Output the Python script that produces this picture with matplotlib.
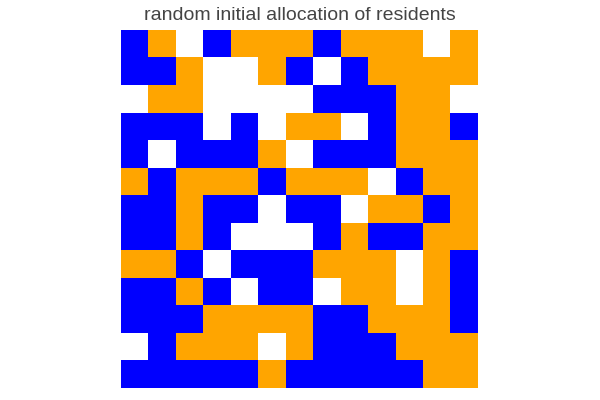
import numpy as np
import matplotlib
matplotlib.use('Agg')
from matplotlib import pyplot as plt
from matplotlib.colors import ListedColormap

# 0 = empty, 1 = blue resident, 2 = orange resident
grid_rows = [
    [1, 2, 0, 1, 2, 2, 2, 1, 2, 2, 2, 0, 2],
    [1, 1, 2, 0, 0, 2, 1, 0, 1, 2, 2, 2, 2],
    [0, 2, 2, 0, 0, 0, 0, 1, 1, 1, 2, 2, 0],
    [1, 1, 1, 0, 1, 0, 2, 2, 0, 1, 2, 2, 1],
    [1, 0, 1, 1, 1, 2, 0, 1, 1, 1, 2, 2, 2],
    [2, 1, 2, 2, 2, 1, 2, 2, 2, 0, 1, 2, 2],
    [1, 1, 2, 1, 1, 0, 1, 1, 0, 2, 2, 1, 2],
    [1, 1, 2, 1, 0, 0, 0, 1, 2, 1, 1, 2, 2],
    [2, 2, 1, 0, 1, 1, 1, 2, 2, 2, 0, 2, 1],
    [1, 1, 2, 1, 0, 1, 1, 0, 2, 2, 0, 2, 1],
    [1, 1, 1, 2, 2, 2, 2, 1, 1, 2, 2, 2, 1],
    [0, 1, 2, 2, 2, 0, 2, 1, 1, 1, 2, 2, 2],
    [1, 1, 1, 1, 1, 2, 1, 1, 1, 1, 1, 2, 2],
]
colors = ['white', 'blue', 'orange']
title = 'random initial allocation of residents'

fig = plt.figure(figsize=(6, 4), dpi=100)
ax = fig.add_axes([0.2017, 0.03, 0.595, 0.895])
ax.imshow(np.array(grid_rows), cmap=ListedColormap(colors), vmin=0, vmax=2,
          interpolation='nearest', aspect='auto')
ax.axis('off')
fig.text(0.5, 0.94, title, ha='center', va='bottom', fontsize=14,
         color='#444444', family='Liberation Sans')
fig.savefig('out.png', dpi=100)
